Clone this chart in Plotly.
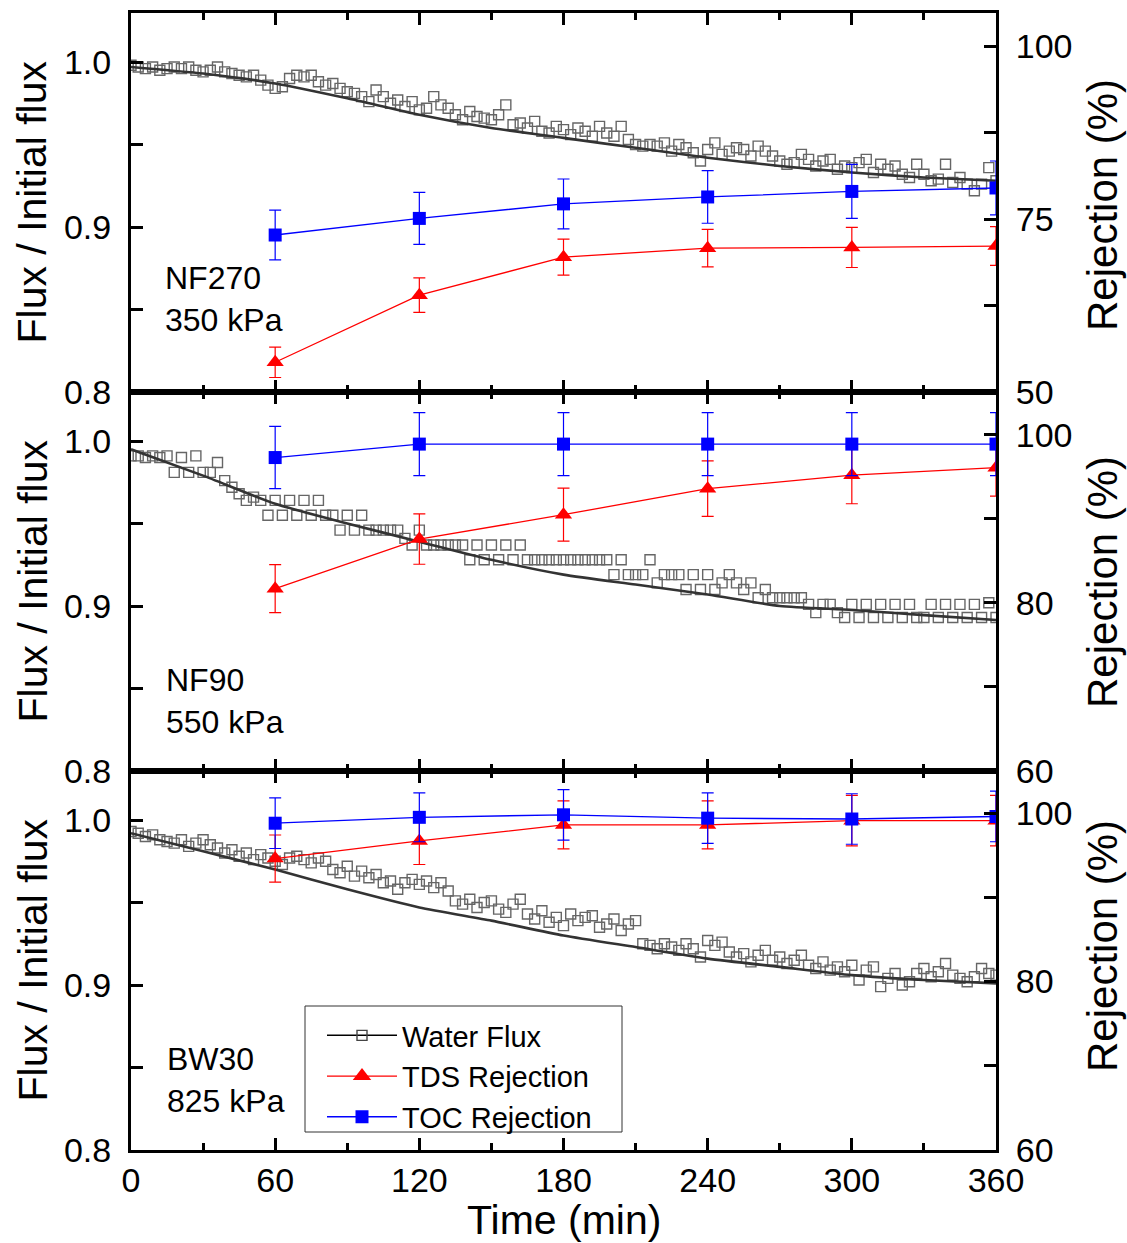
import plotly.graph_objects as go
from plotly.subplots import make_subplots

# ---- data -------------------------------------------------------------
flux_time = list(range(0, 361, 3))  # min, logging interval of the flux readings

flux_nf270 = [
    0.998, 0.997, 0.996, 0.997, 0.995, 0.996, 0.997, 0.996, 0.997, 0.995,
    0.994, 0.995, 0.997, 0.994, 0.993, 0.992, 0.991, 0.992, 0.989, 0.986,
    0.984, 0.985, 0.990, 0.992, 0.991, 0.992, 0.988, 0.986, 0.987, 0.984,
    0.982, 0.981, 0.979, 0.976, 0.983, 0.979, 0.975, 0.977, 0.973, 0.976,
    0.971, 0.972, 0.979, 0.974, 0.972, 0.968, 0.965, 0.970, 0.967, 0.966,
    0.965, 0.968, 0.974, 0.962, 0.963, 0.960, 0.964, 0.958, 0.957, 0.961,
    0.959, 0.956, 0.960, 0.958, 0.955, 0.961, 0.957, 0.955, 0.961, 0.953,
    0.950, 0.949, 0.950, 0.949, 0.951, 0.946, 0.950, 0.948, 0.945, 0.940,
    0.947, 0.951, 0.944, 0.946, 0.948, 0.947, 0.943, 0.949, 0.946, 0.943,
    0.940, 0.938, 0.939, 0.944, 0.941, 0.937, 0.940, 0.941, 0.935, 0.937,
    0.936, 0.939, 0.941, 0.933, 0.938, 0.935, 0.937, 0.932, 0.930, 0.938,
    0.932, 0.928, 0.929, 0.938, 0.927, 0.930, 0.926, 0.922, 0.926, 0.936,
    0.928,
]

flux_nf90 = [
    0.991, 0.991, 0.990, 0.991, 0.990, 0.991, 0.981, 0.990, 0.981, 0.991,
    0.981, 0.981, 0.987, 0.976, 0.972, 0.968, 0.964, 0.966, 0.964, 0.955,
    0.964, 0.955, 0.964, 0.955, 0.964, 0.955, 0.964, 0.955, 0.955, 0.946,
    0.955, 0.946, 0.955, 0.946, 0.946, 0.946, 0.946, 0.946, 0.941, 0.937,
    0.946, 0.937, 0.937, 0.937, 0.937, 0.937, 0.937, 0.928, 0.937, 0.928,
    0.937, 0.928, 0.937, 0.928, 0.937, 0.928, 0.928, 0.928, 0.928, 0.928,
    0.928, 0.928, 0.928, 0.928, 0.928, 0.928, 0.928, 0.919, 0.928, 0.919,
    0.919, 0.919, 0.928, 0.914, 0.919, 0.919, 0.919, 0.910, 0.919, 0.910,
    0.919, 0.910, 0.914, 0.919, 0.914, 0.910, 0.914, 0.905, 0.910, 0.905,
    0.905, 0.905, 0.905, 0.905, 0.901, 0.896, 0.901, 0.901, 0.896, 0.893,
    0.901, 0.893, 0.901, 0.893, 0.901, 0.893, 0.901, 0.893, 0.901, 0.893,
    0.893, 0.901, 0.893, 0.901, 0.893, 0.901, 0.893, 0.901, 0.893, 0.902,
    0.893,
]

flux_bw30 = [
    0.993, 0.992, 0.990, 0.991, 0.988, 0.987, 0.986, 0.988, 0.984, 0.986,
    0.988, 0.985, 0.983, 0.980, 0.982, 0.978, 0.980, 0.976, 0.979, 0.977,
    0.975, 0.973, 0.977, 0.978, 0.976, 0.974, 0.977, 0.975, 0.970, 0.968,
    0.972, 0.966, 0.969, 0.965, 0.967, 0.962, 0.963, 0.958, 0.962, 0.964,
    0.961, 0.963, 0.959, 0.962, 0.957, 0.951, 0.949, 0.952, 0.947, 0.950,
    0.951, 0.946, 0.944, 0.949, 0.952, 0.943, 0.940, 0.945, 0.938, 0.941,
    0.936, 0.943, 0.939, 0.941, 0.942, 0.935, 0.937, 0.940, 0.933, 0.937,
    0.939, 0.925, 0.924, 0.922, 0.925, 0.923, 0.921, 0.925, 0.922, 0.917,
    0.927, 0.924, 0.926, 0.920, 0.917, 0.919, 0.914, 0.918, 0.921, 0.915,
    0.917, 0.913, 0.915, 0.918, 0.912, 0.910, 0.914, 0.909, 0.911, 0.908,
    0.912, 0.903, 0.909, 0.911, 0.899, 0.904, 0.907, 0.900, 0.902, 0.907,
    0.910, 0.905, 0.908, 0.913, 0.906, 0.904, 0.902, 0.905, 0.910, 0.907,
    0.906,
]

# fitted flux-decline curves
fit_time = [0, 30, 60, 90, 120, 150, 180, 210, 240, 270, 300, 330, 360]
fit_nf270 = [0.997, 0.993, 0.987, 0.978, 0.968, 0.960, 0.954, 0.948, 0.942, 0.937, 0.933, 0.930, 0.928]
fit_nf90 = [0.995, 0.979, 0.962, 0.950, 0.939, 0.928, 0.919, 0.913, 0.907, 0.900, 0.8976, 0.8945, 0.8915]
fit_bw30 = [0.992, 0.981, 0.970, 0.958, 0.947, 0.939, 0.930, 0.923, 0.916, 0.911, 0.906, 0.903, 0.901]

# rejection sampling times (min)
rej_time = [60, 120, 180, 240, 300, 360]

tds_nf270 = [54.3, 64.0, 69.5, 70.8, 70.9, 71.1]
tds_nf270_err = [2.2, 2.5, 2.6, 2.7, 2.9, 2.8]
toc_nf270 = [72.7, 75.1, 77.2, 78.2, 79.0, 79.5]
toc_nf270_err = [3.6, 3.75, 3.6, 3.8, 3.9, 3.9]

tds_nf90 = [81.7, 87.6, 90.5, 93.6, 95.2, 96.1]
tds_nf90_err = [2.85, 3.0, 3.15, 3.3, 3.4, 3.4]
toc_nf90 = [97.3, 98.9, 98.9, 98.9, 98.9, 98.9]
toc_nf90_err = [3.7, 3.75, 3.75, 3.75, 3.75, 3.75]

tds_bw30 = [94.6, 96.7, 98.6, 98.6, 99.1, 99.1]
tds_bw30_err = [2.8, 2.8, 2.85, 2.85, 3.0, 3.0]
toc_bw30 = [98.8, 99.5, 99.8, 99.4, 99.3, 99.6]
toc_bw30_err = [3.0, 2.9, 3.0, 3.0, 3.0, 3.0]

membranes = ["NF270<br>350 kPa", "NF90<br>550 kPa", "BW30<br>825 kPa"]
x_ticks = [0, 60, 120, 180, 240, 300, 360]

panels = [
    dict(flux=flux_nf270, fit=fit_nf270, tds=tds_nf270, tds_err=tds_nf270_err,
         toc=toc_nf270, toc_err=toc_nf270_err, rrange=[50, 104.8], rticks=[50, 75, 100], rminor=12.5),
    dict(flux=flux_nf90, fit=fit_nf90, tds=tds_nf90, tds_err=tds_nf90_err,
         toc=toc_nf90, toc_err=toc_nf90_err, rrange=[60, 105.1], rticks=[60, 80, 100], rminor=10),
    dict(flux=flux_bw30, fit=fit_bw30, tds=tds_bw30, tds_err=tds_bw30_err,
         toc=toc_bw30, toc_err=toc_bw30_err, rrange=[60, 105.0], rticks=[60, 80, 100], rminor=10),
]

# ---- styling ------------------------------------------------------------
FONT = "Liberation Sans, Arial, sans-serif"
RED = "#ff0000"
BLUE = "#0000ff"
FLUX_GREY = "#666666"
FIT_GREY = "#333333"
TICK_SIZE = 34
TITLE_SIZE = 41

W, H = 1127, 1243
ML, MR, MT, MB = 131, 131, 13, 93

fig = make_subplots(rows=3, cols=1, shared_xaxes=True, vertical_spacing=0,
                    specs=[[{"secondary_y": True}]] * 3)

for i, p in enumerate(panels):
    row = i + 1
    fig.add_trace(go.Scatter(
        x=flux_time, y=p["flux"], mode="markers", showlegend=False,
        marker=dict(symbol="square-open", size=10, color=FLUX_GREY, line=dict(width=1.4, color=FLUX_GREY)),
    ), row=row, col=1, secondary_y=False)
    fig.add_trace(go.Scatter(
        x=fit_time, y=p["fit"], mode="lines", showlegend=False,
        line=dict(color=FIT_GREY, width=2.6, shape="spline", smoothing=0.6),
    ), row=row, col=1, secondary_y=False)
    fig.add_trace(go.Scatter(
        x=rej_time, y=p["tds"], mode="lines+markers", name="TDS Rejection", showlegend=False,
        line=dict(color=RED, width=1.3),
        marker=dict(symbol="triangle-up", size=15, color=RED),
        error_y=dict(type="data", array=p["tds_err"], visible=True, color=RED, thickness=1.2, width=6),
    ), row=row, col=1, secondary_y=True)
    fig.add_trace(go.Scatter(
        x=rej_time, y=p["toc"], mode="lines+markers", name="TOC Rejection", showlegend=False,
        line=dict(color=BLUE, width=1.3),
        marker=dict(symbol="square", size=13, color=BLUE),
        error_y=dict(type="data", array=p["toc_err"], visible=True, color=BLUE, thickness=1.2, width=6),
    ), row=row, col=1, secondary_y=True)

    axis_common = dict(showline=True, linewidth=3, linecolor="black", ticks="inside",
                       tickwidth=3, ticklen=12, tickcolor="black", showgrid=False, zeroline=False,
                       tickfont=dict(family=FONT, size=TICK_SIZE, color="black"),
                       automargin=False)
    fig.update_yaxes(range=[0.8, 1.0297], tickvals=[0.8, 0.9, 1.0], ticktext=["0.8", "0.9", "1.0"],
                     minor=dict(tickvals=[0.85, 0.95], ticks="inside", ticklen=12, tickwidth=3, tickcolor="black"),
                     ticklabelstandoff=10,
                     **axis_common, row=row, col=1, secondary_y=False)
    fig.update_yaxes(range=p["rrange"], tickvals=p["rticks"], ticktext=[str(v) for v in p["rticks"]],
                     minor=dict(tickmode="linear", tick0=p["rticks"][0], dtick=p["rminor"], ticks="inside",
                                ticklen=12, tickwidth=3, tickcolor="black"),
                     ticklabelstandoff=10,
                     **axis_common, row=row, col=1, secondary_y=True)
    fig.update_xaxes(range=[0, 360], domain=[0, 1], tickvals=x_ticks, ticktext=[str(v) for v in x_ticks],
                     mirror="ticks", ticklabelstandoff=-2,
                     minor=dict(tickvals=[30, 90, 150, 210, 270, 330], ticks="inside", ticklen=7,
                                tickwidth=3, tickcolor="black"),
                     **axis_common, row=row, col=1)

# legend proxies
fig.add_trace(go.Scatter(x=[None], y=[None], mode="lines+markers", name="Water Flux",
                         line=dict(color="black", width=1.5),
                         marker=dict(symbol="square-open", size=10, color="#444444", line=dict(width=1.4))),
              row=3, col=1)
fig.add_trace(go.Scatter(x=[None], y=[None], mode="lines+markers", name="TDS Rejection",
                         line=dict(color=RED, width=1.3), marker=dict(symbol="triangle-up", size=17, color=RED)),
              row=3, col=1)
fig.add_trace(go.Scatter(x=[None], y=[None], mode="lines+markers", name="TOC Rejection",
                         line=dict(color=BLUE, width=1.3), marker=dict(symbol="square", size=13, color=BLUE)),
              row=3, col=1)

plot_w = W - ML - MR
plot_h = H - MT - MB


def px_x(px):
    return (px - ML) / plot_w


def px_y(py):
    return (H - MB - py) / plot_h


annotations = []
flux_title_y = [202.5, 581.5, 960.5]
rej_title_y = [205, 582, 946]
label_y = [299, 701.5, 1079.5]
label_x = [163, 164, 165]
for i in range(3):
    annotations.append(dict(text="Flux / Initial flux", xref="paper", yref="paper",
                            x=px_x(32), y=px_y(flux_title_y[i]), textangle=-90, showarrow=False,
                            xanchor="center", yanchor="middle",
                            font=dict(family=FONT, size=TITLE_SIZE, color="black")))
    annotations.append(dict(text="Rejection (%)", xref="paper", yref="paper",
                            x=px_x(1102), y=px_y(rej_title_y[i]), textangle=-90, showarrow=False,
                            xanchor="center", yanchor="middle",
                            font=dict(family=FONT, size=42, color="black")))
    annotations.append(dict(text=membranes[i], xref="paper", yref="paper",
                            x=px_x(label_x[i]), y=px_y(label_y[i]), showarrow=False, align="left",
                            xanchor="left", yanchor="middle",
                            font=dict(family=FONT, size=32, color="black")))
annotations.append(dict(text="Time (min)", xref="paper", yref="paper", x=px_x(563.5), y=px_y(1220),
                        showarrow=False, xanchor="center", yanchor="middle",
                        font=dict(family=FONT, size=TITLE_SIZE, color="black")))

# legend frame
shapes = [dict(type="rect", xref="paper", yref="paper",
               x0=px_x(305), x1=px_x(622), y0=px_y(1132), y1=px_y(1006),
               line=dict(color="#333333", width=1), fillcolor="rgba(0,0,0,0)", layer="above")]

fig.update_layout(
    width=W, height=H,
    margin=dict(l=ML, r=MR, t=MT, b=MB),
    paper_bgcolor="white", plot_bgcolor="white",
    annotations=annotations,
    shapes=shapes,
    legend=dict(x=px_x(322), y=px_y(1010), xanchor="left", yanchor="top",
                borderwidth=0, bgcolor="rgba(0,0,0,0)",
                font=dict(family=FONT, size=29, color="black"),
                itemwidth=70, tracegroupgap=0),
    showlegend=True,
)

fig.write_html("out.html")
